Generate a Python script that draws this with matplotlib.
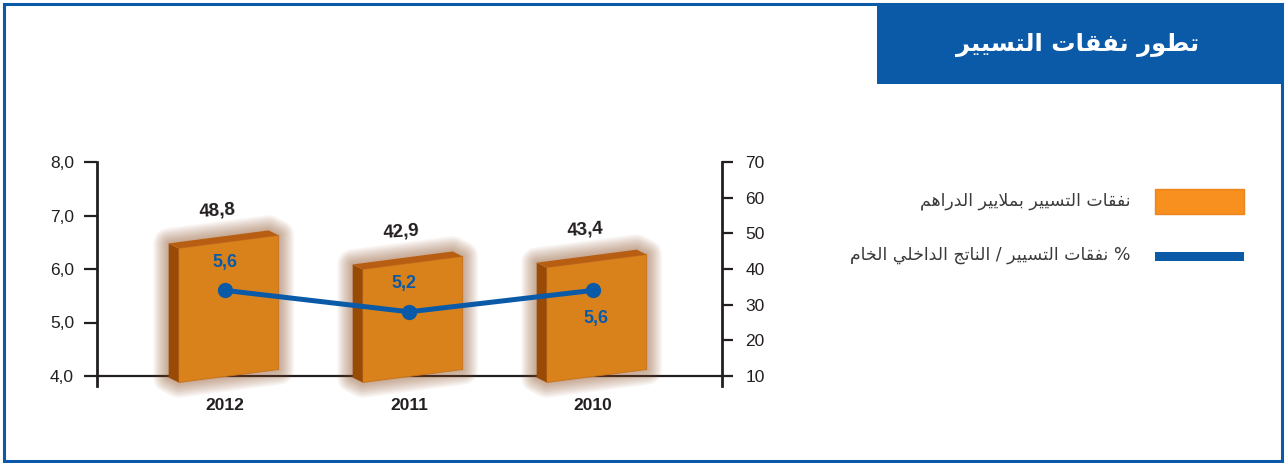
import matplotlib
matplotlib.use('Agg')
import matplotlib.pyplot as plt
from matplotlib.patches import Polygon, Rectangle

# ---------------- data ----------------
years = ['2012', '2011', '2010']
spending = [48.8, 42.9, 43.4]          # نفقات التسيير بملايير الدراهم (right axis)
ratio = [5.6, 5.2, 5.6]                # % نفقات التسيير / الناتج الداخلي الخام (left axis)
spending_labels = ['48,8', '42,9', '43,4']
ratio_labels = ['5,6', '5,2', '5,6']
left_ticks = [4.0, 5.0, 6.0, 7.0, 8.0]
left_ticklabels = ['4,0', '5,0', '6,0', '7,0', '8,0']
right_ticks = [10, 20, 30, 40, 50, 60, 70]
title_text = 'تطور نفقات التسيير'
legend_bar_text = 'نفقات التسيير بملايير الدراهم'
legend_line_text = '% نفقات التسيير / الناتج الداخلي الخام'

# ---------------- minimal Arabic shaping ----------------
FORMS = {
    '\u0627': ('\uFE8D', '\uFE8E', None, None),
    '\u0628': ('\uFE8F', '\uFE90', '\uFE91', '\uFE92'),
    '\u062A': ('\uFE95', '\uFE96', '\uFE97', '\uFE98'),
    '\u062C': ('\uFE9D', '\uFE9E', '\uFE9F', '\uFEA0'),
    '\u062E': ('\uFEA5', '\uFEA6', '\uFEA7', '\uFEA8'),
    '\u062F': ('\uFEA9', '\uFEAA', None, None),
    '\u0631': ('\uFEAD', '\uFEAE', None, None),
    '\u0633': ('\uFEB1', '\uFEB2', '\uFEB3', '\uFEB4'),
    '\u0637': ('\uFEC1', '\uFEC2', '\uFEC3', '\uFEC4'),
    '\u0641': ('\uFED1', '\uFED2', '\uFED3', '\uFED4'),
    '\u0642': ('\uFED5', '\uFED6', '\uFED7', '\uFED8'),
    '\u0644': ('\uFEDD', '\uFEDE', '\uFEDF', '\uFEE0'),
    '\u0645': ('\uFEE1', '\uFEE2', '\uFEE3', '\uFEE4'),
    '\u0646': ('\uFEE5', '\uFEE6', '\uFEE7', '\uFEE8'),
    '\u0647': ('\uFEE9', '\uFEEA', '\uFEEB', '\uFEEC'),
    '\u0648': ('\uFEED', '\uFEEE', None, None),
    '\u064A': ('\uFEF1', '\uFEF2', '\uFEF3', '\uFEF4'),
    'LA': ('\uFEFB', '\uFEFC', None, None),
}


def shape(text):
    units = []
    i = 0
    while i < len(text):
        c = text[i]
        if c == '\u0644' and i + 1 < len(text) and text[i + 1] == '\u0627':
            units.append('LA')
            i += 2
        else:
            units.append(c)
            i += 1
    out = []
    for k, u in enumerate(units):
        if u not in FORMS:
            out.append(u)
            continue
        prev = units[k - 1] if k > 0 else None
        nxt = units[k + 1] if k + 1 < len(units) else None
        jp = prev in FORMS and FORMS[prev][2] is not None
        jn = nxt in FORMS and FORMS[u][2] is not None
        iso, fin, ini, med = FORMS[u]
        if jp and jn:
            out.append(med)
        elif jp:
            out.append(fin)
        elif jn:
            out.append(ini)
        else:
            out.append(iso)
    return ''.join(reversed(out))


# ---------------- figure ----------------
W, H = 1285, 463
fig = plt.figure(figsize=(W / 100, H / 100), dpi=100)
fig.patch.set_facecolor('white')

BLUE = '#0a5aa8'
INK = '#231f20'
FRONT = '#d9821c'
SIDE = '#994a05'
TOP = '#b85e12'
GLOW = '#8a4a1c'


def fx(px):
    return px / W


def fy(py):
    return 1 - py / H


# outer border
fig.patches.append(Rectangle((fx(4), fy(461)), fx(1278), 457 / H, transform=fig.transFigure,
                             fill=False, edgecolor=BLUE, linewidth=2.2, zorder=0))
# title box
fig.patches.append(Rectangle((fx(877), fy(84)), fx(406), 80 / H, transform=fig.transFigure,
                             facecolor=BLUE, edgecolor='none', zorder=1))
fig.text(fx(1199), fy(45), shape(title_text), color='white', fontsize=17.5, fontweight='bold',
         family='DejaVu Sans', ha='right', va='center')

# axes
ax_bar = fig.add_axes([fx(97), fy(386), fx(722 - 97), (386 - 162) / H])
ax_line = ax_bar.twinx()

x = list(range(len(years)))
px_per_x = 184.0
ax_bar.set_xlim(-(225 - 97) / px_per_x, (722 - 225) / px_per_x)

# left: 4.0 -> 376px, 8.0 -> 162px ; right: 10 -> 376, 70 -> 162
l_per_px = 4.0 / (376 - 162)
ax_line.set_ylim(4.0 - (386 - 376) * l_per_px, 8.0)
r_per_px = 60.0 / (376 - 162)
ax_bar.set_ylim(10 - (386 - 376) * r_per_px, 70)

# baseline (behind bars)
ax_bar.axhline(10, color=INK, linewidth=1.6, zorder=0.5)

# pseudo-3D bars
w = 100 / px_per_x
dx = -10 / px_per_x
dy = 5 * r_per_px
tilt = 6.5 * r_per_px
top_off = -1.2
for xi, v in zip(x, spending):
    c = xi + 0.02
    xl, xr = c - w / 2, c + w / 2
    b_l, b_r = 10 - tilt, 10 + tilt
    t_l, t_r = v + top_off - tilt, v + top_off + tilt
    outline = [(xl + dx, t_l + dy), (xr + dx, t_r + dy), (xr, t_r), (xr, b_r), (xl, b_l), (xl + dx, b_l + dy)]
    for lw in range(22, 0, -2):
        ax_bar.add_patch(Polygon(outline, closed=True, facecolor='none', edgecolor=GLOW,
                                 linewidth=lw, alpha=0.05, joinstyle='round', zorder=1,
                                 clip_on=False))
    ax_bar.add_patch(Polygon([(xl, b_l), (xr, b_r), (xr, t_r), (xl, t_l)], closed=True,
                             facecolor=FRONT, edgecolor='#c8701a', linewidth=0.6, zorder=2,
                             clip_on=False))
    ax_bar.add_patch(Polygon([(xl + dx, b_l + dy), (xl, b_l), (xl, t_l), (xl + dx, t_l + dy)], closed=True,
                             facecolor=SIDE, edgecolor='none', zorder=2, clip_on=False))
    ax_bar.add_patch(Polygon([(xl + dx, t_l + dy), (xr + dx, t_r + dy), (xr, t_r), (xl, t_l)], closed=True,
                             facecolor=TOP, edgecolor='none', zorder=2, clip_on=False))

for xi, v, lab in zip(x, spending, spending_labels):
    ax_bar.annotate(lab, (xi - 0.04, v), xytext=(0, 12), textcoords='offset points',
                    ha='center', va='bottom', fontsize=13.5, fontweight='bold', color=INK,
                    family='Liberation Sans', rotation=4, zorder=5)

# line
ax_line.plot(x, ratio, color=BLUE, linewidth=3.6, marker='o', markersize=10,
             solid_capstyle='round', zorder=5)
offsets = [(0, 14), (-4, 14), (2, -14)]
for xi, v, lab, off in zip(x, ratio, ratio_labels, offsets):
    ax_line.annotate(lab, (xi, v), xytext=off, textcoords='offset points', ha='center',
                     va='bottom' if off[1] > 0 else 'top', fontsize=13, fontweight='bold',
                     color=BLUE, family='Liberation Sans', zorder=6)

# axis styling
for a in (ax_bar, ax_line):
    a.set_facecolor('none')
    for s in a.spines.values():
        s.set_visible(False)

ax_bar.yaxis.tick_right()
ax_bar.yaxis.set_label_position('right')
ax_line.yaxis.tick_left()
ax_line.yaxis.set_label_position('left')

ax_bar.spines['right'].set_visible(True)
ax_bar.spines['right'].set_linewidth(2)
ax_bar.spines['right'].set_color(INK)
ax_line.spines['left'].set_visible(True)
ax_line.spines['left'].set_linewidth(2)
ax_line.spines['left'].set_color(INK)

ax_line.set_yticks(left_ticks)
ax_line.set_yticklabels(left_ticklabels)
ax_line.tick_params(axis='y', direction='out', length=9.5, width=1.6, color=INK, pad=7,
                    labelsize=12.5, labelcolor=INK)
ax_bar.set_yticks(right_ticks)
ax_bar.tick_params(axis='y', direction='out', length=8, width=1.6, color=INK, pad=9,
                   labelsize=12.5, labelcolor=INK)
for t in ax_line.get_yticklabels() + ax_bar.get_yticklabels():
    t.set_family('Liberation Sans')

ax_bar.set_xticks(x)
ax_bar.set_xticklabels(years, fontsize=12.5, fontweight='bold', color=INK, family='Liberation Sans')
ax_bar.tick_params(axis='x', length=0, pad=9)
ax_line.tick_params(axis='x', length=0, labelbottom=False)

# legend (manual)
fig.patches.append(Rectangle((fx(1155), fy(214)), fx(89), 25 / H, transform=fig.transFigure,
                             facecolor='#f7901e', edgecolor='#ec8420', linewidth=1))
fig.patches.append(Rectangle((fx(1155), fy(261)), fx(89), 9 / H, transform=fig.transFigure,
                             facecolor=BLUE, edgecolor='none'))
fig.text(fx(1131), fy(201), shape(legend_bar_text), fontsize=12.5, color='#3a3a3a',
         family='DejaVu Sans', ha='right', va='center')
fig.text(fx(1131), fy(255), shape(legend_line_text), fontsize=12.5, color='#3a3a3a',
         family='DejaVu Sans', ha='right', va='center')

fig.savefig('out.png', dpi=100, facecolor='white')
